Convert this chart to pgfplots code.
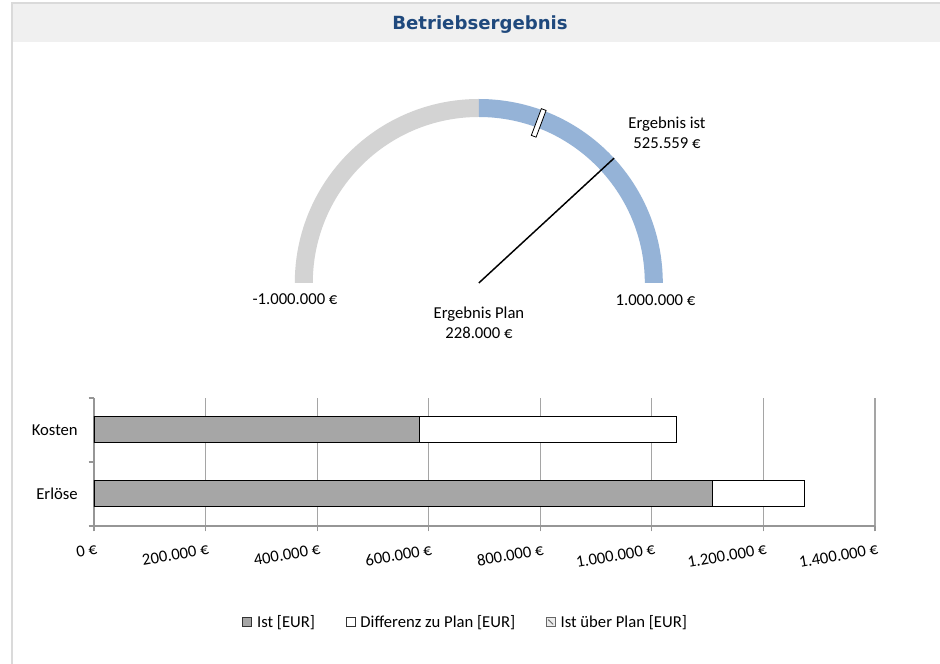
\documentclass[border=0pt]{standalone}
\usepackage{fontspec}
\setmainfont{Carlito}
\newfontfamily\titlefont{DejaVu Sans}
\usepackage{pgfplots}
\pgfplotsset{compat=1.18}

\definecolor{ringgray}{RGB}{211,211,211}
\definecolor{ringblue}{RGB}{149,179,215}
\definecolor{barist}{RGB}{166,166,166}
\definecolor{gridgray}{RGB}{165,165,165}
\definecolor{axgray}{RGB}{150,150,150}
\definecolor{titleblue}{RGB}{31,73,125}
\definecolor{bandgray}{RGB}{240,240,240}
\definecolor{framegray}{RGB}{218,218,218}

\newcommand\lbl{\fontsize{12.5}{15}\selectfont}

% gauge: -1.000.000 ... 1.000.000 mapped to 180 ... 0 degrees
\pgfkeys{/pgf/fpu=true,/pgf/fpu/output format=fixed}
\pgfmathsetmacro\angPlan{180-((228000)-(-1000000))/2000000*180}
\pgfkeys{/pgf/fpu=false}

\pgfdeclareplotmark{planbox}{%
  \pgfpathrectangle{\pgfpoint{-10.7pt}{-1.9pt}}{\pgfpoint{21.4pt}{3.8pt}}%
  \pgfusepathqfillstroke}

\begin{document}
\begin{tikzpicture}
\begin{scope}[x=0.75pt,y=0.75pt]
\path[use as bounding box, fill=white] (0,0) rectangle (940,664);
% frame and title band
\fill[bandgray] (12,622) rectangle (940,660);
\fill[framegray] (10.5,0) rectangle (12.5,661);
\fill[framegray] (10.5,659.5) rectangle (940,661.5);
\node[font=\titlefont\bfseries\fontsize{13.6}{16}\selectfont, text=titleblue] at (480,639) {Betriebsergebnis};
\node[font=\lbl, align=center] at (667,531.5) {Ergebnis ist\\525.559 €};
\node[font=\lbl] at (295,365) {-1.000.000 €};
\node[font=\lbl] at (655.5,364) {1.000.000 €};
\node[font=\lbl, align=center] at (479,341) {Ergebnis Plan\\228.000 €};
\end{scope}

% ---------- gauge ----------
\begin{axis}[
  at={(221.1pt,285.75pt)}, anchor=south west,
  scale only axis, width=276pt, height=138pt,
  xmin=-1, xmax=1, ymin=0, ymax=1,
  hide axis, clip=false,
]
\fill[ringgray] (axis cs:-1,0) arc[start angle=180,end angle=90,radius=138pt]
  -- (axis cs:0,0.9022) arc[start angle=90,end angle=180,radius=124.5pt] -- cycle;
\fill[ringblue] (axis cs:0,1) arc[start angle=90,end angle=0,radius=138pt]
  -- (axis cs:0.9022,0) arc[start angle=0,end angle=90,radius=124.5pt] -- cycle;
% needle: Ergebnis ist
\addplot[black, line width=1.1pt, mark=none]
  table[row sep=\\,
        x expr={cos(180-(\thisrow{v}+1000000)/2000000*180)*\thisrow{r}},
        y expr={sin(180-(\thisrow{v}+1000000)/2000000*180)*\thisrow{r}}]
  {v r\\ 525559 0\\ 525559 1\\};
% marker: Ergebnis Plan
\addplot[only marks, mark=planbox,
  mark options={rotate=\angPlan, fill=white, draw=black, line width=0.6pt}]
  table[row sep=\\,
        x expr={cos(180-(\thisrow{v}+1000000)/2000000*180)*\thisrow{r}},
        y expr={sin(180-(\thisrow{v}+1000000)/2000000*180)*\thisrow{r}}]
  {v r\\ 228000 0.929\\};
\end{axis}

% ---------- bars ----------
\begin{axis}[
  at={(70.5pt,103.5pt)}, anchor=south west,
  scale only axis, width=585.75pt, height=96pt,
  xbar stacked, bar width=19.5pt,
  xmin=0, xmax=1400000, ymin=-0.5, ymax=1.5,
  axis x line*=bottom, axis y line*=left,
  axis line style={draw=axgray, line width=0.9pt, -},
  xtick={0,200000,400000,600000,800000,1000000,1200000,1400000},
  xticklabels={0 €,200.000 €,400.000 €,600.000 €,800.000 €,1.000.000 €,1.200.000 €,1.400.000 €},
  scaled x ticks=false,
  xmajorgrids, grid style={draw=gridgray, line width=0.9pt},
  tick align=outside, major tick length=4pt,
  tick style={draw=axgray, line width=0.9pt},
  xticklabel style={font=\lbl, rotate=10, anchor=north east, inner sep=0pt, xshift=0pt, yshift=-9pt},
  ytick={-0.5,0.5,1.5}, yticklabels={},
  extra y ticks={0,1}, extra y tick labels={Erlöse,Kosten},
  extra y tick style={major tick length=0pt},
  yticklabel style={font=\lbl, inner sep=0pt, xshift=-12pt},
  legend style={at={(0.4763,-0.75)}, anchor=center, draw=none, fill=none,
    legend columns=3, font=\lbl,
    /tikz/every even column/.append style={column sep=21pt}},
]
\addplot[fill=barist, draw=black, line width=0.75pt,
  legend image code/.code={\draw[fill=barist, draw=black!80, line width=0.5pt] (0pt,-3.4pt) rectangle (6.8pt,3.4pt);
    \path[draw=none, fill=none] (0pt,0pt) -- (8.8pt,0pt);}]
  coordinates {(1109559,0) (584000,1)};
\addlegendentry{Ist [EUR]}
\addplot[fill=white, draw=black, line width=0.75pt,
  legend image code/.code={\draw[fill=white, draw=black!80, line width=0.5pt] (0pt,-3.4pt) rectangle (6.8pt,3.4pt);
    \path[draw=none, fill=none] (0pt,0pt) -- (8.8pt,0pt);}]
  coordinates {(163441,0) (461000,1)};
\addlegendentry{Differenz zu Plan [EUR]}
\addplot[fill=none, draw=none,
  legend image code/.code={\draw[fill=gray!15, draw=black!60, line width=0.5pt] (0pt,-3.4pt) rectangle (6.8pt,3.4pt);
    \draw[black!60, line width=0.7pt] (1.5pt,1.8pt) -- (5.2pt,-1.8pt);
    \path[draw=none, fill=none] (0pt,0pt) -- (8.8pt,0pt);}]
  coordinates {(0,0) (0,1)};
\addlegendentry{Ist über Plan [EUR]}
\end{axis}
\end{tikzpicture}
\end{document}
